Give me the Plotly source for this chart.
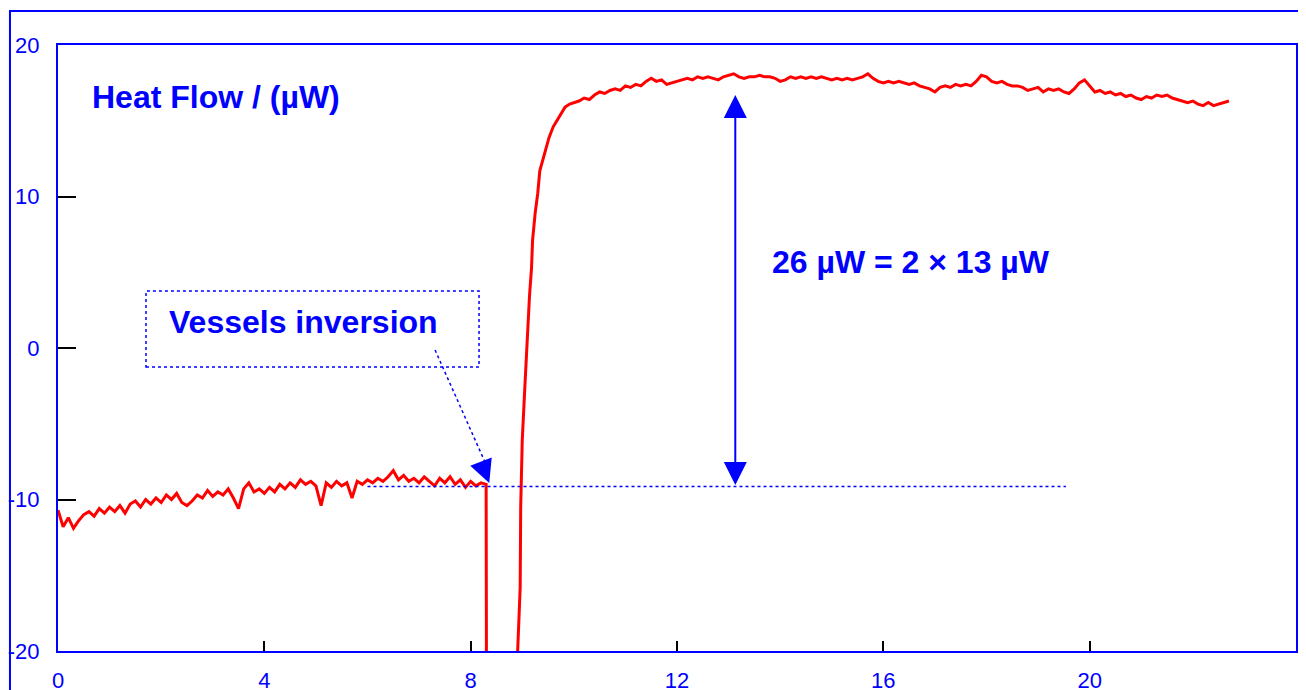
import plotly.graph_objects as go

# ---------------- data ----------------
# baseline before the vessels inversion, sampled every 0.1 min
base_t = [round(0.1 * i, 1) for i in range(84)]
base_v = [-10.7, -11.8, -11.2, -11.9, -11.4, -11.0, -10.8, -11.1, -10.6, -10.9,
          -10.5, -10.8, -10.4, -10.9, -10.3, -10.1, -10.5, -10.0, -10.3, -9.9,
          -10.2, -9.7, -10.0, -9.6, -10.2, -10.4, -10.1, -9.7, -9.9, -9.4,
          -9.8, -9.5, -9.7, -9.3, -9.9, -10.6, -9.3, -8.9, -9.5, -9.3,
          -9.6, -9.2, -9.5, -9.0, -9.3, -8.9, -9.2, -8.7, -9.0, -8.8,
          -9.1, -10.4, -8.9, -9.2, -8.8, -9.1, -8.9, -9.9, -8.8, -9.0,
          -8.7, -8.9, -8.6, -8.8, -8.5, -8.1, -8.7, -8.4, -8.8, -8.6,
          -8.9, -8.5, -8.8, -9.1, -8.6, -8.9, -8.5, -9.0, -8.7, -9.2,
          -8.8, -9.1, -8.9, -9.0]

# signal leaves the scale during the inversion
gap_t = [8.31, 8.90]
gap_v = [-30.0, -30.0]

# steep rise after the inversion
rise_t = [8.91, 8.96, 8.97, 9.00, 9.05, 9.09, 9.14, 9.18, 9.20, 9.25,
          9.30, 9.34, 9.41, 9.46, 9.52, 9.60, 9.70, 9.83, 9.92]
rise_v = [-20.1, -15.8, -10.5, -6.1, -2.6, 0.5, 3.4, 5.3, 7.1, 8.9,
          10.2, 11.7, 12.6, 13.3, 13.9, 14.6, 15.2, 15.9, 16.1]

# plateau, sampled every 0.1 min from 10.0 to 22.7
plat_t = [round(10.0 + 0.1 * i, 1) for i in range(128)]
plat_v = [16.2, 16.3, 16.5, 16.4, 16.7, 16.9, 16.8, 17.0, 17.1, 17.0,
          17.3, 17.2, 17.4, 17.3, 17.6, 17.8, 17.6, 17.7, 17.4, 17.5,
          17.6, 17.7, 17.8, 17.7, 17.9, 17.8, 17.9, 17.8, 17.7, 17.9,
          18.0, 18.1, 17.9, 17.8, 17.9, 17.9, 18.0, 17.9, 17.9, 17.8,
          17.6, 17.7, 17.9, 17.8, 17.9, 17.8, 17.9, 17.8, 17.9, 17.8,
          17.7, 17.8, 17.7, 17.8, 17.7, 17.8, 17.9, 18.1, 17.8, 17.6,
          17.5, 17.6, 17.5, 17.6, 17.5, 17.4, 17.5, 17.3, 17.2, 17.1,
          16.9, 17.2, 17.3, 17.2, 17.4, 17.3, 17.4, 17.3, 17.6, 18.0,
          17.9, 17.6, 17.5, 17.6, 17.4, 17.3, 17.3, 17.2, 17.0, 17.1,
          17.2, 16.9, 17.1, 17.0, 17.1, 16.9, 16.8, 17.1, 17.5, 17.7,
          17.3, 16.9, 17.0, 16.8, 16.9, 16.7, 16.8, 16.6, 16.7, 16.5,
          16.4, 16.6, 16.5, 16.7, 16.6, 16.7, 16.5, 16.4, 16.3, 16.2,
          16.3, 16.1, 16.0, 16.2, 16.0, 16.1, 16.2, 16.3]

x_ticks = [0, 4, 8, 12, 16, 20, 24]
y_ticks = [-20, -10, 0, 10, 20]
y_ticktext = ["-20", "-10", "0", "10", "20"]

baseline_level = -9.15      # level before inversion (dotted line)
plateau_level = 16.7        # level after inversion
arrow_time = 13.13

time = base_t + gap_t + rise_t + plat_t
heat = base_v + gap_v + rise_v + plat_v

BLUE = "#0000FF"
RED = "#FF0000"
FONT = "Arial, Liberation Sans, sans-serif"

fig = go.Figure()
fig.add_trace(go.Scatter(x=time, y=heat, mode="lines",
                         line=dict(color=RED, width=3), showlegend=False,
                         hoverinfo="skip"))

# dotted horizontal reference line
fig.add_shape(type="line", x0=6.0, x1=19.54, y0=baseline_level, y1=baseline_level,
              xref="x", yref="y", line=dict(color=BLUE, width=1.5, dash="dot"))

# double-headed arrow 26 µW
fig.add_annotation(x=arrow_time, y=plateau_level, ax=arrow_time, ay=baseline_level,
                   xref="x", yref="y", axref="x", ayref="y", text="",
                   showarrow=True, arrowside="end+start", arrowhead=2,
                   arrowsize=2.3, arrowwidth=2, arrowcolor=BLUE)

# dotted box around "Vessels inversion"
fig.add_shape(type="rect", x0=1.706, x1=8.162, y0=-1.25, y1=3.76, xref="x", yref="y",
              line=dict(color=BLUE, width=1.5, dash="dot"))
# dotted pointer line
fig.add_shape(type="line", x0=7.31, y0=-0.13, x1=8.30, y1=-7.7, xref="x", yref="y",
              line=dict(color=BLUE, width=1.5, dash="dot"))
# arrow head of the pointer
fig.add_annotation(x=8.36, y=-8.91, xref="x", yref="y", ax=-5, ay=-13, text="",
                   showarrow=True, arrowhead=2, arrowsize=2.3, arrowwidth=2,
                   arrowcolor=BLUE)

fig.add_annotation(x=2.11, y=1.72, xref="x", yref="y", text="<b>Vessels inversion</b>",
                   showarrow=False, xanchor="left", yanchor="middle",
                   font=dict(family=FONT, size=32, color=BLUE))
fig.add_annotation(x=13.80, y=5.68, xref="x", yref="y",
                   text="<b>26 µW = 2 × 13 µW</b>", showarrow=False,
                   xanchor="left", yanchor="middle",
                   font=dict(family=FONT, size=32, color=BLUE))
fig.add_annotation(x=0.0258, y=0.915, xref="paper", yref="paper",
                   text="<b>Heat Flow / (µW)</b>", showarrow=False,
                   xanchor="left", yanchor="middle",
                   font=dict(family=FONT, size=32, color=BLUE))

# outer frame
fig.add_shape(type="rect", x0=-0.0388, x1=1.03, y0=-0.12, y1=1.0561,
              xref="paper", yref="paper", line=dict(color=BLUE, width=2), layer="below")

fig.update_xaxes(range=[0, 24], tickvals=x_ticks, ticks="inside", ticklen=10,
                 tickwidth=2, tickcolor="black", showline=True, linecolor=BLUE,
                 linewidth=2, mirror=True, showgrid=False, zeroline=False,
                 tickfont=dict(family=FONT, size=22, color=BLUE),
                 ticklabelstandoff=9, automargin=False)
fig.update_yaxes(range=[-20, 20], tickvals=y_ticks, ticktext=y_ticktext,
                 ticks="inside", ticklen=18, tickwidth=2, tickcolor="black",
                 showline=True, linecolor=BLUE, linewidth=2, mirror=True,
                 showgrid=False, zeroline=False,
                 tickfont=dict(family=FONT, size=22, color=BLUE),
                 ticklabelstandoff=12, automargin=False)

# the page places the figure 8 px from the top-left corner
fig.update_layout(width=1298, height=682, margin=dict(l=50, r=10, t=37, b=39),
                  paper_bgcolor="white", plot_bgcolor="white",
                  font=dict(family=FONT, color=BLUE))

fig.write_html("out.html")
